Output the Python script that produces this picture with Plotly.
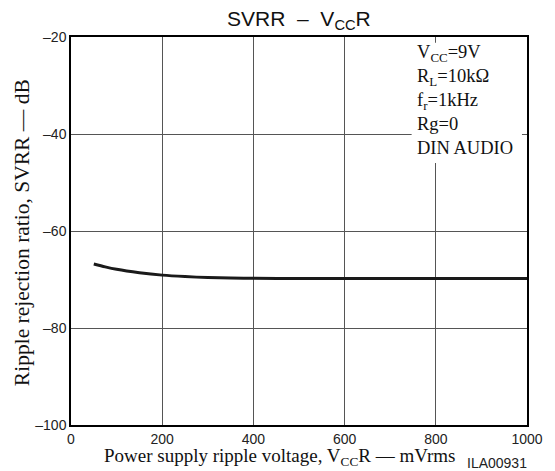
import plotly.graph_objects as go

# Data
ripple_mv = [50, 75, 100, 150, 200, 250, 300, 350, 400, 500, 600, 700, 800, 900, 1000]
svrr_db = [-66.8, -67.4, -67.9, -68.6, -69.1, -69.4, -69.6, -69.7, -69.75, -69.8, -69.8, -69.8, -69.8, -69.8, -69.8]

x_ticks = [0, 200, 400, 600, 800, 1000]
y_ticks = [-100, -80, -60, -40, -20]
y_tick_text = ["\u2013100", "\u201380", "\u201360", "\u201340", "\u201320"]

cond_lines = ["V<sub>CC</sub>=9V", "R<sub>L</sub>=10k\u03a9", "f<sub>r</sub>=1kHz", "Rg=0", "DIN AUDIO"]

SERIF = "Liberation Serif"
SANS = "Liberation Sans"

fig = go.Figure()
fig.add_trace(go.Scatter(
    x=ripple_mv, y=svrr_db, mode="lines",
    line=dict(color="#1a1a1a", width=3, shape="spline", smoothing=0.8),
    hoverinfo="skip", showlegend=False,
))

axis_common = dict(
    showline=True, linecolor="black", linewidth=1.5, mirror=True,
    showgrid=True, gridcolor="#555555", gridwidth=1,
    zeroline=False, ticks="",
    tickfont=dict(family=SANS, size=14, color="#222"),
)

fig.update_xaxes(range=[0, 1000], tickvals=x_ticks, **axis_common)
fig.update_yaxes(range=[-100, -20], tickvals=y_ticks, ticktext=y_tick_text, **axis_common)

fig.add_shape(type="rect", xref="paper", yref="paper",
              x0=0.747, x1=0.989, y0=0.675, y1=0.985,
              fillcolor="white", line=dict(width=0), layer="above")

fig.add_annotation(
    xref="paper", yref="paper", x=0.754, y=0.838, xanchor="left", yanchor="middle",
    text="<br>".join(cond_lines), align="left", showarrow=False,
    font=dict(family=SERIF, size=18.5, color="#111"),
)

fig.add_annotation(
    xref="paper", yref="paper", x=0.5, y=1.044, xanchor="center", yanchor="middle",
    text="SVRR\u00a0\u00a0\u2013\u00a0\u00a0V<sub>CC</sub>R", showarrow=False,
    font=dict(family=SANS, size=21, color="#111"),
)

fig.add_annotation(
    xref="paper", yref="paper", x=0.457, y=-0.0815, xanchor="center", yanchor="middle",
    text="Power supply ripple voltage, V<sub>CC</sub>R \u2014 mVrms", showarrow=False,
    font=dict(family=SERIF, size=19, color="#111"),
)

fig.add_annotation(
    xref="paper", yref="paper", x=-0.107, y=0.495, xanchor="center", yanchor="middle",
    text="Ripple rejection ratio, SVRR \u2014 dB", textangle=-90, showarrow=False,
    font=dict(family=SERIF, size=21.5, color="#111"),
)

fig.add_annotation(
    xref="paper", yref="paper", x=(474 - 71) / 467, y=-0.0975, xanchor="left", yanchor="middle",
    text="ILA00931", showarrow=False,
    font=dict(family=SANS, size=14, color="#222"),
)

# The page body keeps its default 8px margin, so the figure is sized to fit
# the 555x471 window with the plot area where the reference has it.
fig.update_layout(
    width=547, height=463,
    margin=dict(l=63, r=17, t=29, b=46),
    paper_bgcolor="white", plot_bgcolor="white",
    showlegend=False,
)

fig.write_html("out.html")
